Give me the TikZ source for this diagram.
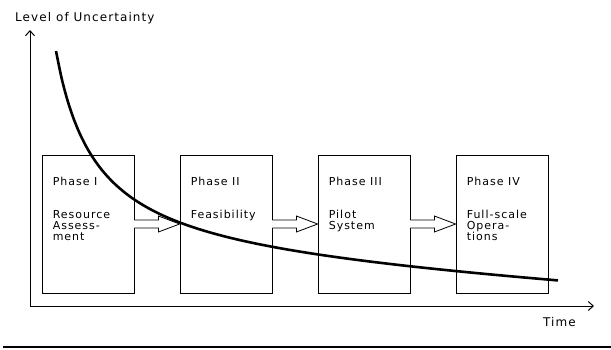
\documentclass[tikz,border=0pt]{standalone}
\usepackage{fontspec}
\setmainfont{DejaVu Sans}[LetterSpace=9]
\usetikzlibrary{arrows.meta,calc}

\begin{document}
\begin{tikzpicture}[x=1pt,y=-1pt,
  phase/.style={draw,line width=.8pt,minimum width=92pt,minimum height=138pt,inner sep=0pt},
  txt/.style={anchor=base west,inner sep=0pt,align=left,font=\fontsize{11}{11}\selectfont},
  axis/.style={line width=1pt,{Straight Barb[length=5pt,width=9pt]}-{Straight Barb[length=5pt,width=9pt]}}]
\useasboundingbox (0,0) rectangle (611,349);

% axes
\coordinate (ytop) at (30,30);
\coordinate (xend) at (594,306);
\draw[axis] (ytop) |- (xend);
\node[txt,font=\fontsize{12}{12}\selectfont] (ylab) at (15,21) {Level of Uncertainty};
\node[txt,font=\fontsize{12}{12}\selectfont] (xlab) at (543,326) {Time};

% the four phases
\foreach \i/\num/\what in {1/I/{Resource\\Assess-\\ment},2/II/Feasibility,
                           3/III/{Pilot\\System},4/IV/{Full-scale\\Opera-\\tions}} {
  \node[phase] (p\i) at (88+138*\i-138,224) {};
  \node[txt] (h\i) at ($(p\i.north west)+(11,31)$) {Phase \num};
  % multi-line text: hang it from its top
  \node[txt,anchor=north west] (d\i) at ($(p\i.north west)+(11,55.8)$) {\what};
}

% block arrows between phases
\foreach \a/\b in {1/2,2/3,3/4} {
  \fill[white] ($(p\a.east)+(-1,-3.6)$) rectangle ($(p\a.east)+(1,3.6)$);
  \draw[line width=.8pt,line join=miter] ($(p\a.east)+(0,-4)$) -- ++(24,0) -- ++(0,-4)
    -- (p\b.west) -- ($(p\a.east)+(24,8)$) -- ++(0,-4) -- ($(p\a.east)+(0,4)$);
}

% uncertainty curve: y = A - B/(x-c) + m*x
\def\uA{265.8}
\def\uB{8712}
\def\uc{16}
\def\um{0.055}
\draw[line width=2.6pt] plot[domain=56:558,samples=90,smooth]
  (\x,{\uA-\uB/(\x-\uc)+\um*\x});

% rule under the figure
\coordinate (ruleL) at (3,347);
\coordinate (ruleR) at (611,347);
\draw[line width=1.2pt] (ruleL) -- (ruleR);
\end{tikzpicture}
\end{document}
